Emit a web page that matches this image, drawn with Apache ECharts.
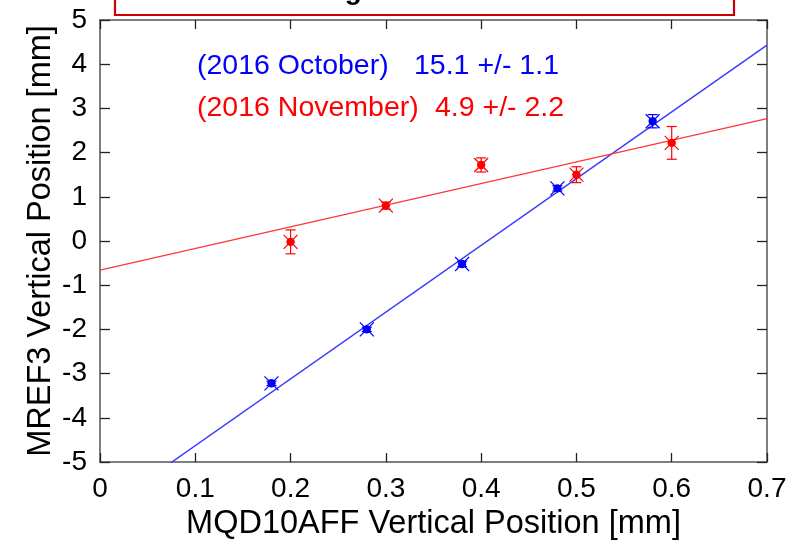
<!DOCTYPE html>
<html>
<head>
<meta charset="utf-8">
<script src="https://cdn.jsdelivr.net/npm/echarts@6/dist/echarts.min.js"></script>
<style>
  html, body { margin: 0; padding: 0; background: #fff; }
  #chart { width: 808px; height: 542px; }
</style>
</head>
<body>
<div id="chart"></div>
<script>
// Measured MREF3 vs MQD10AFF vertical positions [mm]
const xOct = [0.18, 0.28, 0.38, 0.48, 0.58];
const yOct = [-3.22, -2.00, -0.52, 1.19, 2.71];
const errOct = [0.05, 0.05, 0.06, 0.06, 0.15];

const xNov = [0.20, 0.30, 0.40, 0.50, 0.60];
const yNov = [-0.02, 0.80, 1.72, 1.50, 2.22];
const errNov = [0.27, 0.08, 0.16, 0.18, 0.37];

// Linear fit results: y = slope * x + offset
const fitOct = { slope: 15.1, slopeErr: 1.1, offset: -6.14 };
const fitNov = { slope: 4.9, slopeErr: 2.2, offset: -0.66 };

const xRange = [0, 0.7];
const yRange = [-5, 5];

const FONT = "'Liberation Sans', Arial, Helvetica, sans-serif";
const BLUE = '#0000ff';
const RED = '#ff0000';

function fitLine(fit) {
  return xRange.map(x => [x, fit.slope * x + fit.offset]);
}

function pointData(xs, ys, errs) {
  return xs.map((x, i) => [x, ys[i], errs[i]]);
}

// Marker: vertical error bar with caps, diagonal cross and filled dot
function makeRenderItem(color) {
  return function (params, api) {
    const x = api.value(0), y = api.value(1), e = api.value(2);
    const c = api.coord([x, y]);
    const top = api.coord([x, y + e]);
    const bot = api.coord([x, y - e]);
    const cap = 5, arm = 7;
    const style = { stroke: color, lineWidth: 1.2 };
    const children = [
      { type: 'line', shape: { x1: c[0], y1: top[1], x2: c[0], y2: bot[1] }, style },
      { type: 'line', shape: { x1: c[0] - cap, y1: top[1], x2: c[0] + cap, y2: top[1] }, style },
      { type: 'line', shape: { x1: c[0] - cap, y1: bot[1], x2: c[0] + cap, y2: bot[1] }, style },
      { type: 'line', shape: { x1: c[0] - arm, y1: c[1] - arm, x2: c[0] + arm, y2: c[1] + arm }, style },
      { type: 'line', shape: { x1: c[0] - arm, y1: c[1] + arm, x2: c[0] + arm, y2: c[1] - arm }, style },
      { type: 'circle', shape: { cx: c[0], cy: c[1], r: 4.2 }, style: { fill: color } }
    ];
    return { type: 'group', children };
  };
}

const axisLine = { show: true, onZero: false, lineStyle: { color: '#555', width: 1.5 } };
const tickStyle = { color: '#222', width: 1.3 };

const chart = echarts.init(document.getElementById('chart'), null, { renderer: 'canvas' });
chart.setOption({
  animation: false,
  backgroundColor: '#fff',
  grid: { left: 100, right: 41, top: 20, bottom: 80, containLabel: false, outerBoundsMode: 'none' },
  xAxis: [
    {
      type: 'value', position: 'bottom', min: xRange[0], max: xRange[1], interval: 0.1,
      name: 'MQD10AFF Vertical Position [mm]', nameLocation: 'middle', nameGap: 46,
      nameTextStyle: { fontFamily: FONT, fontSize: 32.5, color: '#000' },
      axisLine, splitLine: { show: false },
      axisTick: { inside: true, length: 9, lineStyle: tickStyle },
      axisLabel: { fontFamily: FONT, fontSize: 28, color: '#000', margin: 13,
        formatter: v => (Math.round(v * 10) / 10).toString() }
    },
    {
      type: 'value', position: 'top', min: xRange[0], max: xRange[1], interval: 0.1,
      axisLine, splitLine: { show: false },
      axisTick: { inside: true, length: 9, lineStyle: tickStyle },
      axisLabel: { show: false }
    }
  ],
  yAxis: [
    {
      type: 'value', position: 'left', min: yRange[0], max: yRange[1], interval: 1,
      name: 'MREF3 Vertical Position [mm]', nameLocation: 'middle', nameGap: 42,
      nameMoveOverlap: false,
      nameTextStyle: { fontFamily: FONT, fontSize: 32.5, color: '#000' },
      axisLine, splitLine: { show: false },
      axisTick: { inside: true, length: 10, lineStyle: tickStyle },
      axisLabel: { fontFamily: FONT, fontSize: 28, color: '#000', margin: 13 }
    },
    {
      type: 'value', position: 'right', min: yRange[0], max: yRange[1], interval: 1,
      axisLine, splitLine: { show: false },
      axisTick: { inside: true, length: 10, lineStyle: tickStyle },
      axisLabel: { show: false }
    }
  ],
  series: [
    {
      name: 'fit October', type: 'line', data: fitLine(fitOct), clip: true,
      showSymbol: false, lineStyle: { color: '#3838ff', width: 1.4 }, z: 2
    },
    {
      name: 'fit November', type: 'line', data: fitLine(fitNov), clip: true,
      showSymbol: false, lineStyle: { color: '#ff3838', width: 1.4 }, z: 2
    },
    {
      name: '2016 October', type: 'custom', data: pointData(xOct, yOct, errOct),
      renderItem: makeRenderItem(BLUE), z: 3
    },
    {
      name: '2016 November', type: 'custom', data: pointData(xNov, yNov, errNov),
      renderItem: makeRenderItem(RED), z: 3
    }
  ],
  graphic: [
    {
      type: 'rect', shape: { x: 115, y: -40, width: 619, height: 55 },
      style: { fill: '#fff', stroke: '#cc0000', lineWidth: 2.2 }, z: 10
    },
    {
      type: 'text', x: 424, y: 5, z: 11,
      style: { text: 'Alignment Result', fontFamily: FONT, fontWeight: 'bold', fontSize: 28,
        fill: '#000', align: 'center', verticalAlign: 'bottom' }
    },
    {
      type: 'text', x: 197, y: 66, z: 11,
      style: { text: '(2016 October)', fontFamily: FONT, fontSize: 28.5, fill: BLUE, verticalAlign: 'middle' }
    },
    {
      type: 'text', x: 414, y: 66, z: 11,
      style: { text: fitOct.slope.toFixed(1) + ' +/- ' + fitOct.slopeErr.toFixed(1),
        fontFamily: FONT, fontSize: 28.5, fill: BLUE, verticalAlign: 'middle' }
    },
    {
      type: 'text', x: 197, y: 108, z: 11,
      style: { text: '(2016 November)', fontFamily: FONT, fontSize: 28.5, fill: RED, verticalAlign: 'middle' }
    },
    {
      type: 'text', x: 435, y: 108, z: 11,
      style: { text: fitNov.slope.toFixed(1) + ' +/- ' + fitNov.slopeErr.toFixed(1),
        fontFamily: FONT, fontSize: 28.5, fill: RED, verticalAlign: 'middle' }
    }
  ]
});
</script>
</body>
</html>
